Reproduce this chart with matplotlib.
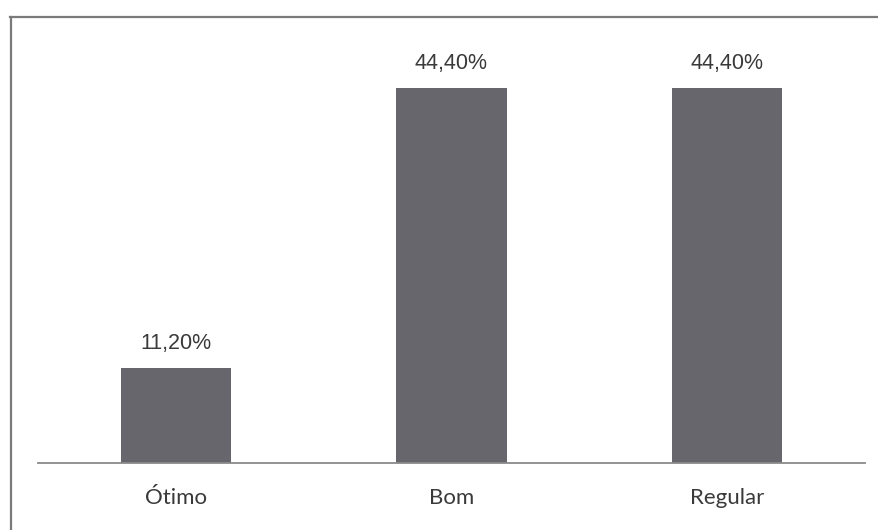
import matplotlib
matplotlib.use("Agg")
import matplotlib.pyplot as plt
from matplotlib.lines import Line2D

categories = ["Ótimo", "Bom", "Regular"]
values = [11.2, 44.4, 44.4]
value_labels = ["11,20%", "44,40%", "44,40%"]

W, H = 879, 530
fig = plt.figure(figsize=(W / 100, H / 100), dpi=100)
fig.patch.set_facecolor("white")

# plot area: baseline at y=463 px, spans x 38..865 px
left, right = 38 / W, 865 / W
bottom = (H - 463) / H
top = (H - 30) / H
ax = fig.add_axes([left, bottom, right - left, top - bottom])

px_per_unit = (463 - 88) / 44.4
ymax = (463 - 30) / px_per_unit

bar_color = "#67666c"
ax.bar(range(len(categories)), values, width=0.4, color=bar_color, zorder=2)
ax.set_xlim(-0.5, len(categories) - 0.5)
ax.set_ylim(0, ymax)

for i, (v, lab) in enumerate(zip(values, value_labels)):
    ax.annotate(lab, (i, v), xytext=(0, 14), textcoords="offset pixels",
                ha="center", va="bottom", fontsize=15.5, color="#3a3a3a",
                family=["Liberation Sans", "DejaVu Sans"])

ax.set_xticks(range(len(categories)))
ax.set_xticklabels(categories, fontsize=16, color="#3a3a3a",
                   family=["Lato", "DejaVu Sans"])
ax.tick_params(axis="x", length=0, pad=18)
ax.set_yticks([])
for s in ["top", "right", "left"]:
    ax.spines[s].set_visible(False)
ax.spines["bottom"].set_color("#8a8a8a")
ax.spines["bottom"].set_linewidth(1.3)

# outer frame (top and left edges)
fig.add_artist(Line2D([10 / W, 1.0], [(H - 17) / H, (H - 17) / H],
                      transform=fig.transFigure, color="#7a7a7a", lw=1.6))
fig.add_artist(Line2D([11 / W, 11 / W], [0, (H - 17) / H],
                      transform=fig.transFigure, color="#7a7a7a", lw=1.6))

fig.savefig("out.png", dpi=100)
